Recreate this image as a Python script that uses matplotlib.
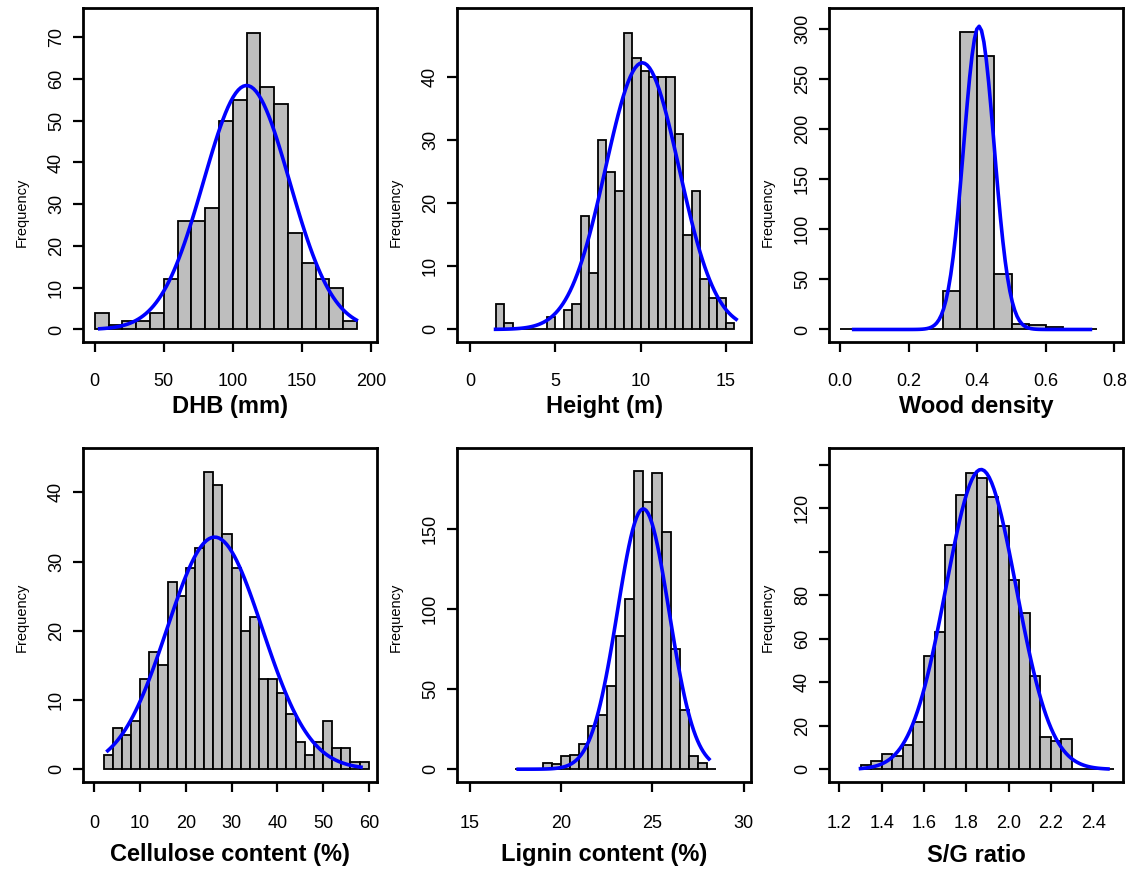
import numpy as np
import matplotlib.pyplot as plt

# ---- data (counts per bin) ----
dhb_start, dhb_width = 0, 10
dhb_counts = [4, 1, 2, 2, 4, 12, 26, 26, 29, 50, 55, 71, 58, 54, 23, 16, 12, 10, 2]
dhb_mean, dhb_sd = 110, 31.2
dhb_span = (3.6, 189.5)

height_start, height_width = 1.5, 0.5
height_counts = [4, 1, 0, 0, 0, 0, 2, 0, 3, 4, 18, 9, 30, 25, 22, 47, 43, 41,
                 40, 40, 40, 31, 15, 22, 8, 5, 5, 1]
height_mean, height_sd = 10.1, 2.15
height_span = (1.5, 15.6)

wood_start, wood_width = 0.0, 0.05
wood_counts = [0, 0, 0, 0, 0, 0, 38, 297, 273, 55, 5, 4, 2, 0, 0]
wood_mean, wood_sd = 0.405, 0.0444
wood_span = (0.04, 0.73)

cell_start, cell_width = 2, 2
cell_counts = [2, 6, 5, 7, 13, 17, 15, 27, 25, 29, 32, 43, 41, 34, 29, 20, 22,
               13, 13, 11, 8, 4, 2, 4, 7, 3, 3, 1, 1]
cell_mean, cell_sd = 26.3, 10.4
cell_span = (2.9, 58.3)

lig_start, lig_width = 17.5, 0.5
lig_counts = [0, 0, 0, 4, 3, 8, 9, 16, 27, 34, 52, 83, 106, 186, 167, 185, 148,
              75, 37, 8, 4, 0]
lig_mean, lig_sd = 24.5, 1.414
lig_span = (17.65, 28.1)

sg_start, sg_width = 1.30, 0.05
sg_counts = [2, 4, 7, 6, 11, 22, 52, 63, 103, 126, 136, 134, 125, 112, 87, 72,
             43, 15, 13, 14, 0, 0, 0, 0]
sg_mean, sg_sd = 1.87, 0.166
sg_span = (1.30, 2.47)

labels = ['DHB (mm)', 'Height (m)', 'Wood density',
          'Cellulose content (%)', 'Lignin content (%)', 'S/G ratio']

panels = [
    dict(start=dhb_start, width=dhb_width, counts=dhb_counts, mean=dhb_mean, sd=dhb_sd, span=dhb_span,
         xlim=(-8.5, 204.5), ylim=(-3, 77), xticks=[0, 50, 100, 150, 200], xfmt='{:g}',
         yticks=[0, 10, 20, 30, 40, 50, 60, 70], ylabels=None),
    dict(start=height_start, width=height_width, counts=height_counts, mean=height_mean, sd=height_sd,
         span=height_span, xlim=(-0.76, 16.47), ylim=(-2, 51), xticks=[0, 5, 10, 15], xfmt='{:g}',
         yticks=[0, 10, 20, 30, 40], ylabels=None),
    dict(start=wood_start, width=wood_width, counts=wood_counts, mean=wood_mean, sd=wood_sd, span=wood_span,
         xlim=(-0.032, 0.825), ylim=(-12.5, 321), xticks=[0.0, 0.2, 0.4, 0.6, 0.8], xfmt='{:.1f}',
         yticks=[0, 50, 100, 150, 200, 250, 300], ylabels=None),
    dict(start=cell_start, width=cell_width, counts=cell_counts, mean=cell_mean, sd=cell_sd, span=cell_span,
         xlim=(-2.5, 61.8), ylim=(-1.85, 46.4), xticks=[0, 10, 20, 30, 40, 50, 60], xfmt='{:g}',
         yticks=[0, 10, 20, 30, 40], ylabels=None),
    dict(start=lig_start, width=lig_width, counts=lig_counts, mean=lig_mean, sd=lig_sd, span=lig_span,
         xlim=(14.3, 30.4), ylim=(-8, 200.5), xticks=[15, 20, 25, 30], xfmt='{:g}',
         yticks=[0, 50, 100, 150], ylabels=None),
    dict(start=sg_start, width=sg_width, counts=sg_counts, mean=sg_mean, sd=sg_sd, span=sg_span,
         xlim=(1.151, 2.541), ylim=(-5.8, 147.7), xticks=[1.2, 1.4, 1.6, 1.8, 2.0, 2.2, 2.4], xfmt='{:.1f}',
         yticks=[0, 20, 40, 60, 80, 100, 120, 140], ylabels=['0', '20', '40', '60', '80', '', '120', '']),
]

plt.rcParams['font.family'] = ['Liberation Sans', 'DejaVu Sans']

W, H = 1141, 875
fig = plt.figure(figsize=(W / 100, H / 100), dpi=100)

lefts = [83, 457, 829]
tops = [8, 448]
box_w, box_h = 294, 334
xlab_y = [407, 855]      # pixel centre of the bold axis titles
freq_x = [22, 396, 768]  # pixel centre of the "Frequency" labels
freq_y = [212, 617]

for i, p in enumerate(panels):
    r, c = divmod(i, 3)
    ax = fig.add_axes([lefts[c] / W, 1 - (tops[r] + box_h) / H, box_w / W, box_h / H])

    counts = np.array(p['counts'])
    edges = p['start'] + p['width'] * np.arange(len(counts) + 1)
    ax.bar(edges[:-1], counts, width=p['width'], align='edge',
           color='#bebebe', edgecolor='black', linewidth=1.3, zorder=2)

    # fitted normal curve scaled to counts
    x = np.linspace(p['span'][0], p['span'][1], 101)
    n = counts.sum()
    y = n * p['width'] * np.exp(-0.5 * ((x - p['mean']) / p['sd']) ** 2) / (p['sd'] * np.sqrt(2 * np.pi))
    ax.plot(x, y, color='#0000ff', lw=2.6, zorder=3)

    ax.set_xlim(p['xlim'])
    ax.set_ylim(p['ylim'])
    ax.set_xticks(p['xticks'])
    ax.set_xticklabels([p['xfmt'].format(t) for t in p['xticks']])
    ax.set_yticks(p['yticks'])
    ylabs = p['ylabels'] if p['ylabels'] else [str(t) for t in p['yticks']]
    ax.set_yticklabels(ylabs, rotation=90, va='center')

    for s in ax.spines.values():
        s.set_linewidth(2.0)
    ax.tick_params(direction='out', length=7, width=1.6, labelsize=13)
    ax.tick_params(axis='x', pad=15 if r == 0 else 17)
    ax.tick_params(axis='y', pad=6)

    cx = (lefts[c] + box_w / 2) / W
    fig.text(cx, 1 - xlab_y[r] / H, labels[i], fontsize=17, fontweight='bold',
             ha='center', va='center')
    fig.text(freq_x[c] / W, 1 - freq_y[r] / H, 'Frequency', fontsize=10.5, rotation=90,
             ha='center', va='center')

fig.savefig('out.png', dpi=100)
